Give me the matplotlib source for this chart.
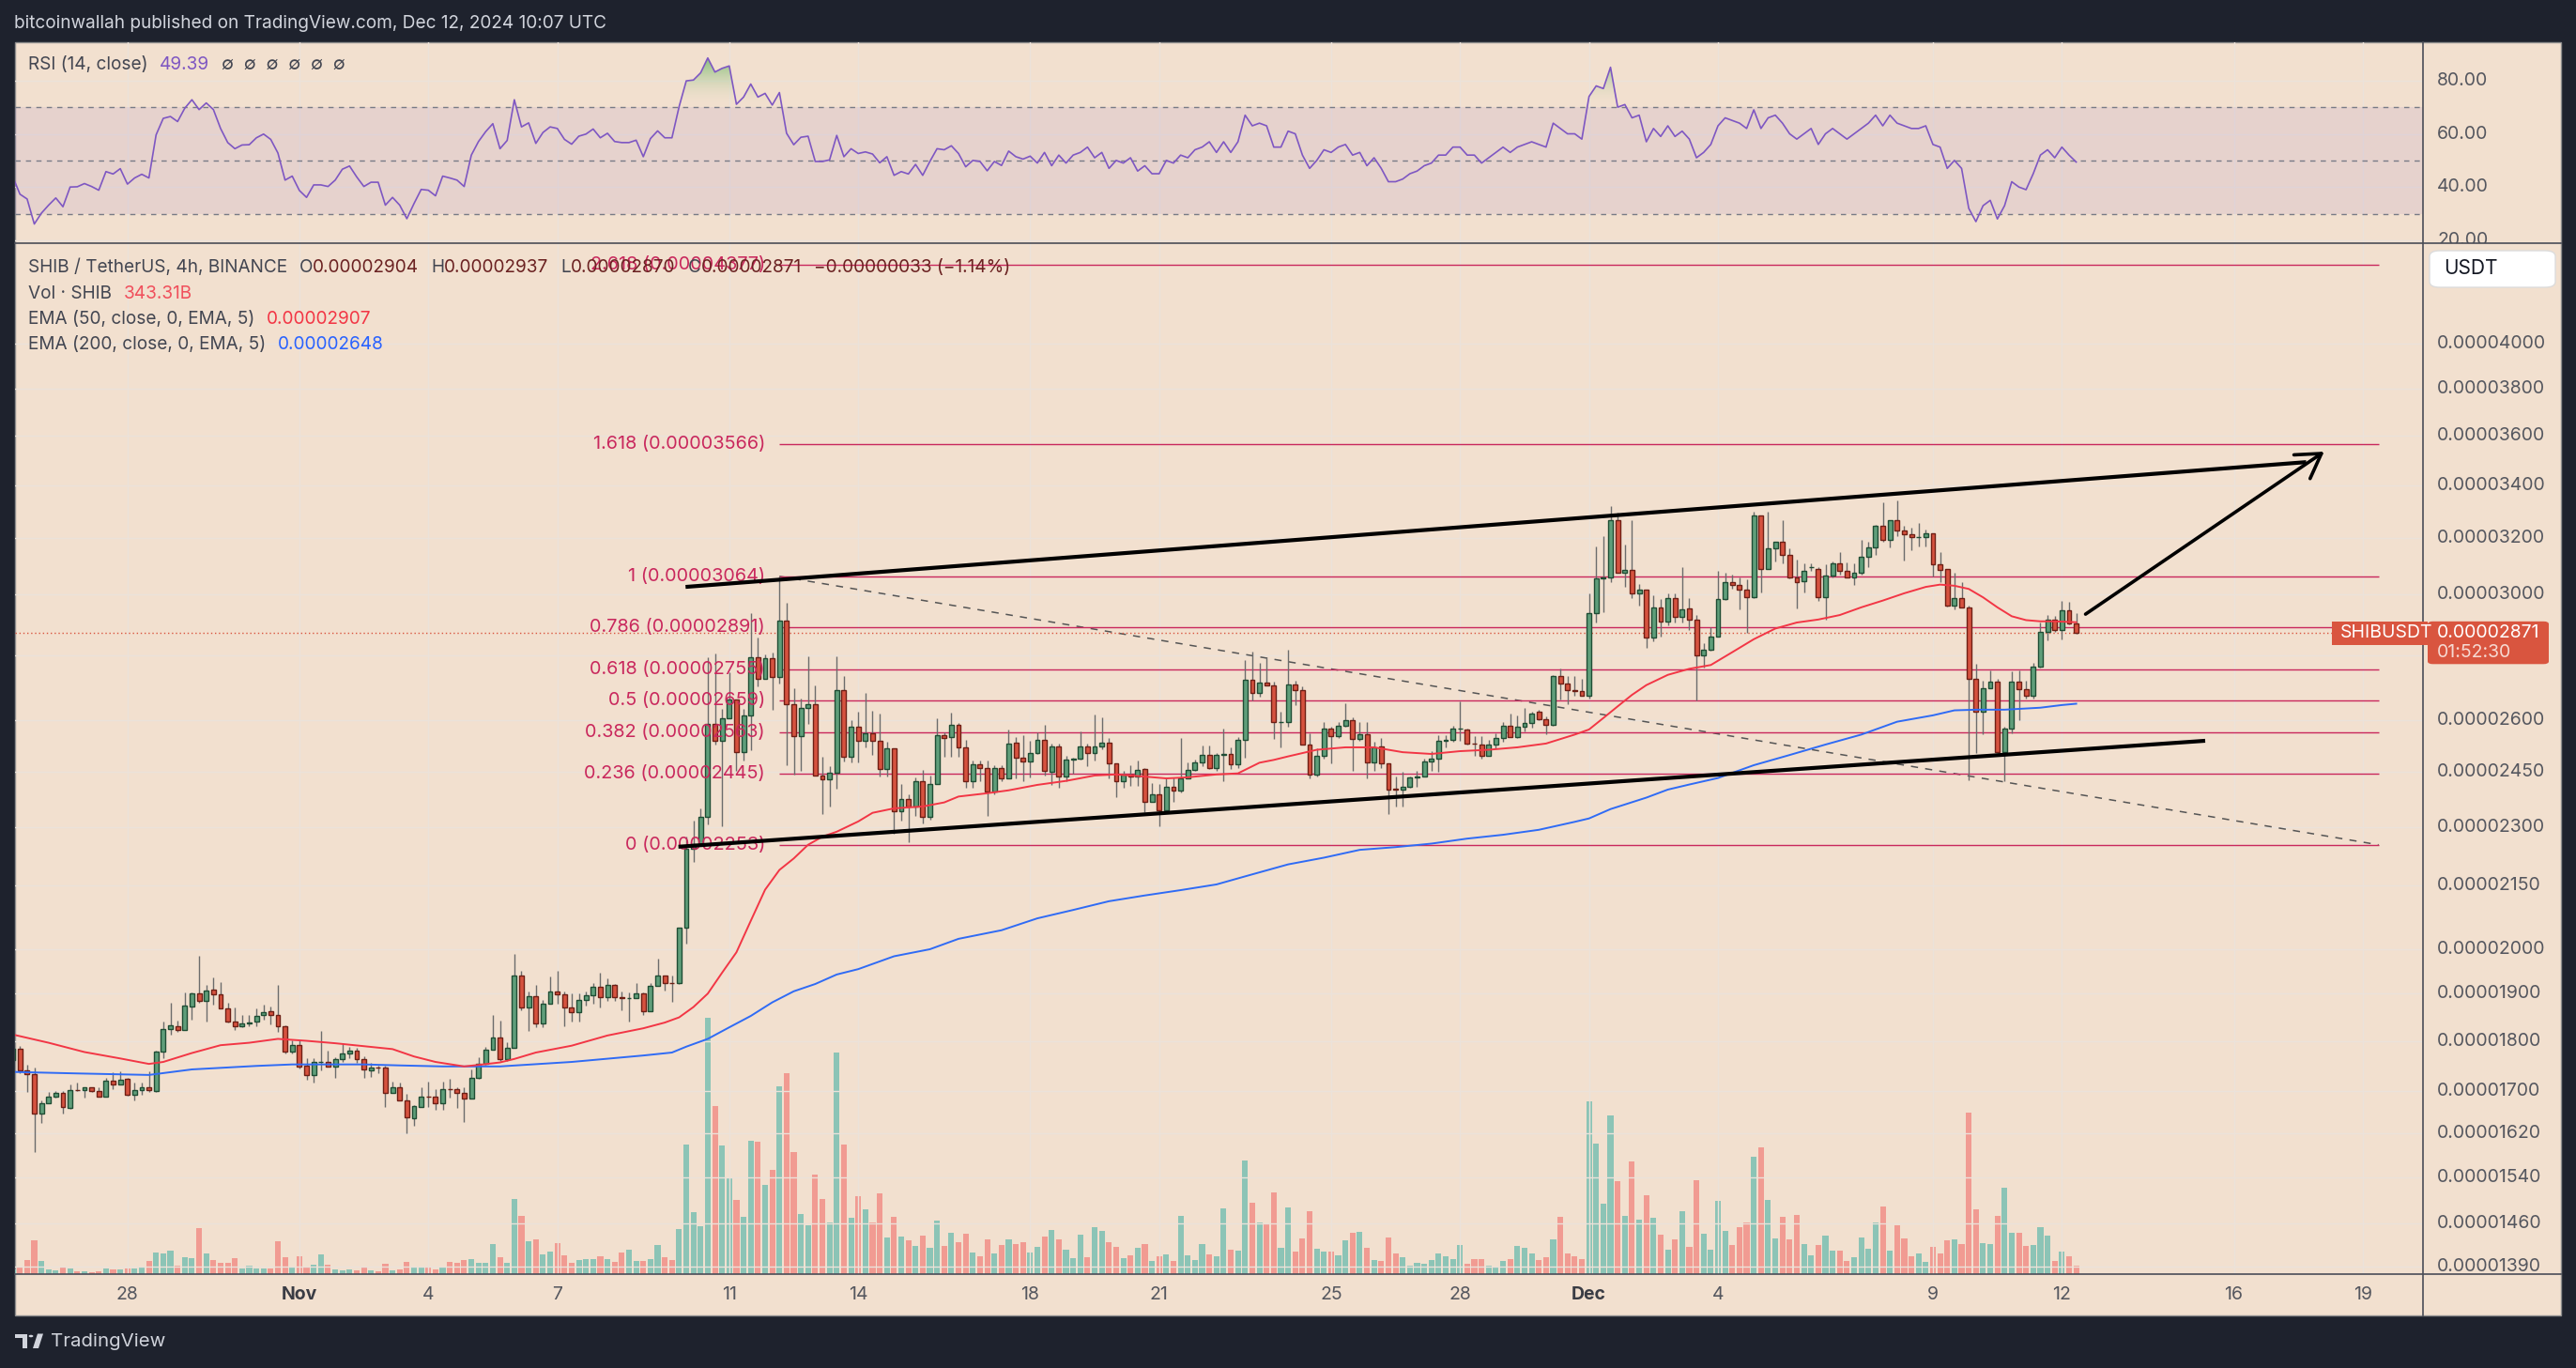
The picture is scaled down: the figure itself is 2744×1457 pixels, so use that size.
#!/usr/bin/env python3
import numpy as np
import pandas as pd
import matplotlib
matplotlib.use("Agg")
import matplotlib.pyplot as plt
from matplotlib.patches import Rectangle, FancyBboxPatch, Polygon, Circle
from matplotlib.lines import Line2D
from matplotlib.path import Path
from matplotlib.colors import LinearSegmentedColormap

# --------------------
# DATA (prices in units of 1e-8 USDT, volume in billions of SHIB)
# --------------------
START = "2024-10-25 08:00"   # first 4h bar

OPEN = [1761, 1783, 1741, 1732, 1656, 1676, 1688, 1695, 1667, 1702, 1702, 1706, 1700, 1689, 1719, 1713, 1724, 1692, 1702, 1706,
        1699, 1777, 1824, 1830, 1822, 1872, 1900, 1884, 1908, 1898, 1868, 1841, 1830, 1836, 1840, 1855, 1862, 1855, 1830, 1777,
        1791, 1750, 1730, 1757, 1757, 1747, 1763, 1774, 1779, 1762, 1740, 1746, 1745, 1696, 1707, 1682, 1647, 1668, 1689, 1688,
        1676, 1704, 1703, 1696, 1684, 1726, 1754, 1781, 1806, 1763, 1785, 1939, 1871, 1895, 1836, 1879, 1905, 1899, 1871, 1860,
        1887, 1897, 1914, 1893, 1919, 1893, 1890, 1891, 1900, 1862, 1916, 1939, 1924, 1923, 2048, 2243, 2255, 2327, 2587, 2539,
        2605, 2661, 2506, 2614, 2794, 2724, 2790, 2731, 2911, 2647, 2551, 2635, 2647, 2438, 2428, 2447, 2689,
        2492, 2580, 2538, 2559, 2538, 2457, 2516, 2342, 2374, 2354, 2424, 2326, 2415, 2554, 2549, 2584, 2519, 2422, 2470, 2460,
        2396, 2460, 2430, 2533, 2489, 2479, 2503, 2541, 2449, 2522, 2437, 2485, 2486, 2522, 2502, 2521, 2533, 2473, 2424, 2442,
        2436, 2457, 2366, 2387, 2345, 2407, 2398, 2431, 2454, 2475, 2498, 2460, 2498, 2501, 2470, 2541, 2723, 2682,
        2714, 2705, 2594, 2594, 2708, 2689, 2527, 2442, 2494, 2573, 2552, 2582, 2598, 2543, 2556, 2475, 2521, 2473, 2403, 2399,
        2408, 2433, 2437, 2478, 2486, 2537, 2540, 2573, 2571, 2531, 2527, 2494, 2527, 2547, 2583, 2549, 2579, 2591, 2623, 2601,
        2585, 2732, 2709, 2689, 2686, 2673, 2937, 3057, 3060, 3269, 3078, 3086, 3005, 3018, 2855, 2957, 2909,
        2988, 2924, 2953, 2914, 2800, 2817, 2860, 2985, 3042, 3033, 3018, 2993, 3285, 3091, 3164, 3186, 3141, 3060, 3046, 3095,
        3091, 2993, 3066, 3110, 3084, 3060, 3075, 3132, 3166, 3246, 3195, 3269, 3230, 3215, 3204, 3204, 3217, 3106, 3089, 2964,
        2988, 2955, 2724, 2625, 2695, 2717, 2505, 2573, 2716, 2693, 2671, 2763, 2876, 2917, 2880, 2948, 2904]
HIGH = [1790, 1789, 1752, 1746, 1681, 1698, 1699, 1699, 1712, 1716, 1707, 1707, 1706, 1725, 1737, 1739, 1725, 1716, 1716, 1739,
        1779, 1841, 1880, 1842, 1903, 1902, 1985, 1918, 1936, 1926, 1881, 1871, 1855, 1855, 1868, 1876, 1873, 1920, 1832, 1801,
        1801, 1765, 1765, 1821, 1780, 1766, 1795, 1788, 1786, 1768, 1756, 1749, 1749, 1718, 1716, 1694, 1673, 1707, 1718, 1703,
        1717, 1724, 1706, 1706, 1742, 1767, 1788, 1854, 1842, 1797, 1989, 1951, 1905, 1919, 1887, 1938, 1951, 1905, 1900, 1900,
        1905, 1924, 1946, 1934, 1921, 1905, 1903, 1924, 1903, 1924, 1977, 1939, 1939, 2050, 2275, 2317, 2348, 2794, 2805, 2633,
        2745, 2661, 2633, 2938, 2855, 2801, 2809, 3064, 2971, 2696, 2663, 2797, 2703, 2493, 2464, 2795, 2732,
        2598, 2624, 2680, 2627, 2617, 2536, 2516, 2416, 2387, 2434, 2455, 2439, 2604, 2562, 2620, 2591, 2541, 2482, 2480, 2482,
        2468, 2468, 2571, 2550, 2554, 2538, 2562, 2584, 2531, 2531, 2494, 2488, 2564, 2531, 2615, 2607, 2546, 2473, 2451, 2467,
        2482, 2460, 2419, 2416, 2434, 2434, 2546, 2476, 2485, 2525, 2525, 2504, 2575, 2519, 2548, 2783, 2810, 2776,
        2792, 2716, 2625, 2817, 2720, 2701, 2560, 2516, 2594, 2579, 2594, 2649, 2607, 2594, 2594, 2536, 2545, 2473, 2436, 2450,
        2436, 2451, 2487, 2507, 2555, 2555, 2583, 2654, 2574, 2552, 2552, 2541, 2561, 2594, 2619, 2613, 2636, 2625, 2629, 2609,
        2737, 2757, 2732, 2732, 2724, 3005, 3170, 3207, 3320, 3294, 3179, 3266, 3038, 3018, 2998, 2985, 3005,
        3005, 3095, 2988, 2932, 2839, 2891, 3082, 3078, 3069, 3060, 3053, 3299, 3285, 3299, 3188, 3269, 3164, 3124, 3110, 3110,
        3095, 3106, 3115, 3150, 3112, 3110, 3193, 3188, 3250, 3336, 3269, 3343, 3246, 3240, 3257, 3234, 3217, 3150, 3089, 3078,
        3042, 2962, 2771, 2720, 2752, 2724, 2579, 2749, 2752, 2720, 2776, 2905, 2932, 2927, 2980, 2975, 2937]
LOW = [1755, 1735, 1698, 1584, 1638, 1675, 1686, 1657, 1665, 1699, 1686, 1698, 1689, 1688, 1704, 1712, 1690, 1681, 1692, 1698,
       1697, 1765, 1812, 1819, 1822, 1845, 1880, 1841, 1877, 1868, 1839, 1823, 1828, 1830, 1830, 1845, 1834, 1819, 1775, 1774,
       1743, 1721, 1716, 1740, 1747, 1725, 1757, 1764, 1756, 1725, 1727, 1734, 1668, 1696, 1682, 1620, 1633, 1668, 1668, 1663,
       1663, 1686, 1666, 1640, 1684, 1724, 1752, 1781, 1758, 1758, 1785, 1864, 1820, 1828, 1828, 1879, 1878, 1830, 1840, 1840,
       1874, 1878, 1871, 1885, 1885, 1865, 1840, 1890, 1854, 1862, 1916, 1907, 1883, 1921, 2011, 2209, 2252, 2307, 2528, 2301,
       2605, 2453, 2480, 2510, 2700, 2724, 2630, 2710, 2467, 2441, 2453, 2588, 2438, 2333, 2354, 2402, 2478,
       2476, 2476, 2519, 2497, 2436, 2436, 2282, 2316, 2260, 2328, 2308, 2319, 2415, 2492, 2492, 2492, 2404, 2404, 2422, 2328,
       2387, 2422, 2430, 2431, 2424, 2434, 2501, 2439, 2413, 2404, 2424, 2444, 2485, 2466, 2482, 2514, 2431, 2380, 2404, 2410,
       2410, 2339, 2366, 2302, 2345, 2366, 2393, 2431, 2451, 2466, 2457, 2451, 2424, 2457, 2460, 2488, 2658, 2670,
       2705, 2543, 2518, 2579, 2645, 2527, 2432, 2436, 2486, 2474, 2546, 2580, 2451, 2537, 2432, 2453, 2461, 2334, 2355, 2355,
       2405, 2408, 2435, 2453, 2449, 2518, 2534, 2537, 2527, 2494, 2487, 2494, 2516, 2534, 2549, 2546, 2564, 2577, 2600, 2556,
       2582, 2660, 2648, 2673, 2673, 2665, 2906, 2940, 3042, 3078, 3027, 2988, 2962, 2824, 2845, 2860, 2896,
       2907, 2907, 2880, 2657, 2760, 2814, 2860, 2983, 3020, 2950, 2872, 2988, 3009, 3091, 3115, 3110, 3057, 2952, 3009, 3082,
       2980, 2914, 3060, 3069, 3060, 3033, 3069, 3097, 3141, 3188, 3166, 3207, 3119, 3157, 3170, 3170, 3064, 3042, 2961, 2950,
       2955, 2425, 2503, 2557, 2695, 2502, 2422, 2561, 2598, 2665, 2665, 2760, 2846, 2876, 2851, 2899, 2870]
CLOSE = [1783, 1741, 1732, 1656, 1675, 1689, 1695, 1668, 1702, 1701, 1706, 1700, 1689, 1719, 1713, 1722, 1692, 1702, 1706, 1701,
         1777, 1824, 1832, 1822, 1874, 1900, 1884, 1907, 1898, 1868, 1841, 1830, 1836, 1838, 1853, 1861, 1855, 1830, 1777, 1791,
         1748, 1730, 1757, 1757, 1747, 1763, 1774, 1779, 1762, 1742, 1746, 1745, 1696, 1707, 1682, 1649, 1670, 1689, 1688, 1676,
         1704, 1703, 1696, 1684, 1726, 1754, 1781, 1806, 1763, 1785, 1939, 1871, 1895, 1836, 1879, 1905, 1899, 1871, 1860, 1887,
         1897, 1914, 1893, 1919, 1893, 1890, 1891, 1900, 1862, 1916, 1939, 1924, 1923, 2048, 2243, 2255, 2327, 2587, 2539, 2605,
         2661, 2506, 2614, 2794, 2724, 2790, 2731, 2911, 2647, 2551, 2635, 2647, 2438, 2428, 2447, 2689, 2492,
         2580, 2538, 2559, 2538, 2457, 2516, 2342, 2374, 2354, 2424, 2326, 2415, 2554, 2546, 2584, 2519, 2422, 2470, 2460, 2396,
         2460, 2430, 2530, 2489, 2479, 2503, 2541, 2451, 2522, 2437, 2485, 2486, 2522, 2502, 2521, 2533, 2473, 2422, 2442, 2436,
         2456, 2366, 2387, 2345, 2407, 2398, 2431, 2454, 2475, 2498, 2460, 2498, 2501, 2470, 2541, 2723, 2682, 2714,
         2705, 2594, 2594, 2708, 2689, 2527, 2442, 2494, 2573, 2552, 2582, 2598, 2543, 2556, 2475, 2518, 2473, 2400, 2399, 2408,
         2433, 2437, 2478, 2486, 2537, 2540, 2573, 2574, 2531, 2530, 2494, 2527, 2547, 2583, 2549, 2579, 2591, 2619, 2601, 2585,
         2732, 2709, 2689, 2686, 2673, 2937, 3057, 3060, 3269, 3078, 3086, 3005, 3018, 2855, 2957, 2909, 2988,
         2924, 2950, 2914, 2800, 2817, 2860, 2985, 3042, 3033, 3018, 2993, 3285, 3091, 3164, 3186, 3141, 3060, 3042, 3084, 3097,
         2993, 3066, 3110, 3084, 3060, 3075, 3132, 3166, 3246, 3195, 3266, 3230, 3215, 3204, 3205, 3217, 3106, 3088, 2964, 2988,
         2955, 2724, 2625, 2695, 2717, 2505, 2573, 2716, 2693, 2671, 2763, 2876, 2917, 2880, 2948, 2904, 2871]
VOLUME_B = [200, 320, 600, 1440, 560, 200, 160, 320, 240, 120, 120, 80, 120, 240, 200, 200, 240, 240, 320, 560,
            920, 880, 1000, 360, 720, 680, 1960, 880, 600, 480, 480, 680, 240, 360, 240, 240, 240, 1400, 720, 280,
            760, 320, 400, 840, 400, 200, 160, 200, 160, 280, 160, 120, 440, 160, 200, 520, 320, 280, 280, 200,
            280, 520, 480, 600, 640, 480, 480, 1280, 720, 480, 3200, 2480, 1400, 1480, 840, 960, 1320, 800, 480, 600,
            640, 640, 760, 640, 520, 920, 1040, 560, 560, 640, 1240, 720, 600, 1920, 5520, 2640, 2040, 10920, 7160, 5480,
            4120, 3160, 2440, 5680, 5640, 3800, 4440, 8000, 8560, 5200, 2560, 2080, 4240, 3200, 2200, 9440, 5520,
            2400, 3320, 2760, 2200, 3440, 1560, 2440, 1600, 1440, 1200, 1640, 1120, 2280, 1200, 1760, 1360, 1720, 920, 760, 1480,
            880, 1240, 1480, 1280, 1360, 920, 1160, 1600, 1880, 1480, 1040, 680, 1680, 720, 2000, 1840, 1360, 1160, 680, 800,
            1120, 1280, 560, 760, 840, 560, 2480, 800, 600, 1280, 840, 760, 2800, 1040, 1000, 4840, 3040, 2200,
            2120, 3480, 1120, 2840, 960, 1520, 2680, 1080, 960, 960, 800, 1440, 1760, 1800, 1120, 600, 560, 1560, 880, 720,
            360, 480, 440, 600, 880, 760, 640, 1240, 440, 640, 640, 360, 320, 560, 640, 1200, 1120, 880, 600, 720,
            1480, 2440, 880, 760, 640, 7360, 5560, 3000, 6760, 3960, 2480, 4800, 2320, 3360, 2400, 1680, 1040,
            1480, 2680, 1160, 4000, 1720, 1040, 3120, 1840, 1240, 2000, 2200, 5000, 5400, 3160, 1520, 2440, 1480, 2520, 1280, 800,
            1240, 1640, 1000, 1000, 560, 720, 1560, 1080, 2200, 2880, 1000, 2080, 1520, 760, 880, 520, 1160, 880, 1440, 1480,
            1280, 6880, 2760, 1320, 1280, 2480, 3680, 1760, 1760, 1200, 1240, 2000, 1640, 560, 960, 760, 343.31]

# EMA readings: (bar index, value)
EMA50_J = [0, 5, 10, 15, 19, 21, 25, 29, 33, 37, 41, 45, 49, 53, 56, 59, 63, 65, 68, 70, 73, 78, 83, 88, 91, 93, 95, 97,
           99, 101, 103, 105, 107, 109, 111, 113, 115, 118, 120, 123, 127, 130, 132, 136, 139, 143, 147, 151, 154, 158,
           161, 164, 168, 171, 174, 176, 178, 182, 186, 190, 194, 198, 202, 206, 210, 214, 218, 220, 222, 224, 226, 228,
           231, 234, 237, 240, 243, 246, 249, 252, 255, 258, 261, 264, 267, 269, 271, 273, 275, 277, 279, 281, 283, 285, 288]
EMA50_V = [1813, 1796, 1777, 1764, 1753, 1757, 1775, 1791, 1796, 1804, 1800, 1795, 1789, 1783, 1768, 1757, 1748, 1751,
           1756, 1763, 1776, 1790, 1811, 1826, 1838, 1849, 1871, 1900, 1946, 1992, 2065, 2140, 2189, 2218, 2253, 2274,
           2287, 2314, 2337, 2349, 2354, 2365, 2381, 2390, 2398, 2413, 2424, 2439, 2442, 2436, 2431, 2434, 2442, 2445,
           2475, 2483, 2493, 2512, 2519, 2519, 2505, 2500, 2508, 2512, 2519, 2530, 2556, 2571, 2605, 2640, 2675, 2705,
           2737, 2756, 2768, 2809, 2851, 2886, 2906, 2916, 2931, 2957, 2980, 3005, 3027, 3035, 3031, 3020, 2991, 2957,
           2927, 2914, 2910, 2910, 2907]
EMA200_J = [0, 9, 19, 25, 34, 39, 49, 54, 60, 68, 78, 88, 92, 94, 97, 100, 103, 106, 109, 112, 115, 118, 123, 128, 132,
            138, 143, 148, 153, 158, 163, 168, 172, 178, 183, 188, 193, 198, 203, 208, 213, 218, 220, 223, 228, 231, 234,
            238, 243, 248, 253, 258, 263, 268, 271, 274, 278, 283, 286, 288]
EMA200_V = [1737, 1734, 1731, 1742, 1749, 1752, 1752, 1750, 1748, 1748, 1757, 1770, 1776, 1788, 1804, 1828, 1852, 1881,
            1905, 1921, 1942, 1954, 1983, 1999, 2023, 2043, 2071, 2091, 2112, 2126, 2139, 2153, 2173, 2203, 2220, 2240,
            2247, 2256, 2269, 2279, 2292, 2313, 2322, 2347, 2378, 2400, 2414, 2432, 2468, 2497, 2527, 2556, 2594, 2613,
            2628, 2630, 2630, 2636, 2644, 2648]

# RSI(14), one reading per bar
RSI = [43.8, 37.3, 35.5, 26.1, 30.2, 33.2, 35.9, 32.6, 40.0, 40.1, 41.3, 40.2, 38.8, 45.8, 44.9, 46.9, 41.1, 43.4, 44.8, 43.4,
       59.6, 65.8, 66.5, 64.6, 69.6, 72.8, 69.1, 71.6, 69.1, 62.0, 56.7, 54.4, 55.8, 55.9, 58.5, 59.9, 57.9, 52.8, 42.6, 44.1,
       38.7, 36.1, 40.8, 40.8, 40.2, 42.6, 46.7, 47.9, 43.8, 40.2, 41.8, 41.8, 33.2, 36.1, 33.2, 28.1, 33.8, 39.1, 38.8, 36.7,
       44.1, 43.4, 42.6, 40.2, 52.0, 57.1, 60.8, 63.8, 54.4, 57.5, 72.8, 62.6, 64.1, 56.4, 60.5, 62.6, 62.0, 57.9, 56.1, 59.1,
       59.9, 61.8, 58.5, 60.2, 57.1, 56.7, 56.7, 57.6, 51.4, 58.2, 61.1, 58.5, 58.5, 70.2, 79.9, 80.2, 82.9, 88.5, 83.2, 84.6,
       85.5, 71.1, 73.8, 78.7, 73.8, 75.2, 70.8, 75.5, 60.2, 55.9, 58.7, 59.1, 49.6, 49.6, 50.2, 59.4, 51.4, 54.4, 52.6, 53.2,
       52.4, 49.1, 51.4, 44.4, 45.8, 44.9, 48.5, 44.4, 49.6, 54.4, 54.0, 55.5, 52.6, 47.6, 50.0, 49.6, 46.1, 49.6, 48.1, 53.5,
       51.4, 50.5, 51.6,
       49, 53, 48, 52, 49, 52, 53, 55, 51, 53,
       47, 50, 49, 51, 46, 48, 45, 45, 50, 49,
       52, 51, 54, 55, 57, 53, 57, 53, 57, 67,
       63, 64, 63, 55, 55, 61, 60, 52, 47, 50,
       54, 53, 55, 56, 52, 53, 48, 51, 47, 42,
       42, 43, 45, 46, 48, 49, 52, 52, 55, 55,
       52, 52, 49, 51, 53, 55, 53, 55, 56, 57,
       56, 55, 64, 62, 60, 60, 58, 74, 78, 77,
       85, 70, 71, 66, 67, 57, 62, 59, 63, 59,
       61, 58, 51, 53, 56, 63, 66, 65, 64, 62,
       69, 62, 66, 67, 64, 60, 58, 60, 62, 56,
       60, 62, 60, 58, 60, 62, 64, 67, 63, 67,
       64, 63, 62, 62, 63, 56, 55, 47, 50, 47,
       32, 27, 33, 35, 28, 33, 42, 40, 39, 45,
       52, 54, 51, 55, 52, 49.39]

# Fibonacci retracement and hand-drawn lines (bar index, price)
FIB_RATIOS = [0, 0.236, 0.382, 0.5, 0.618, 0.786, 1, 1.618, 2.618]
FIB_PRICES = [2253, 2445, 2563, 2659, 2755, 2891, 3064, 3566, 4377]
FIB_SPAN = (107, 330.2)
FIB_DIAG = [(107, 3064), (330.2, 2253)]
UPPER_LINE = [(93.9, 3027), (320.1, 3492)]
LOWER_LINE = [(92.9, 2248), (306, 2538)]
ARROW = [(289.3, 2934), (322.6, 3534)]

PRICE_TICKS = [4000, 3800, 3600, 3400, 3200, 3000, 2600, 2450, 2300, 2150, 2000, 1900, 1800, 1700, 1620, 1540, 1460, 1390]
HIDDEN_GRID = [2800]
RSI_TICKS = [80, 60, 40, 20]
TICK_DATES = ["2024-10-28", "2024-11-01", "2024-11-04", "2024-11-07", "2024-11-11", "2024-11-14", "2024-11-18",
              "2024-11-21", "2024-11-25", "2024-11-28", "2024-12-01", "2024-12-04", "2024-12-09", "2024-12-12",
              "2024-12-16", "2024-12-19"]
TICK_TEXT = ["28", "Nov", "4", "7", "11", "14", "18", "21", "25", "28", "Dec", "4", "9", "12", "16", "19"]

HEADER = "bitcoinwallah published on TradingView.com, Dec 12, 2024 10:07 UTC"
COUNTDOWN = "01:52:30"

# --------------------
# STYLE
# --------------------
W, H, DPI = 2744, 1457, 100
UNIT = 1e-8
DARK = "#1e222d"
BG = "#f2e0cf"
GRID = "#ebe2da"
SEP = "#4a4d57"
TXT = "#434651"
AXTXT = "#55575f"
GREEN, GREEN_EDGE = "#5f9e7a", "#1f4d34"
RED, RED_EDGE = "#d6523f", "#6e1f15"
WICK = "#6c6c6c"
VOL_UP, VOL_DN = "#8cc4b6", "#f19b92"
EMA50_C, EMA200_C = "#f23645", "#2f6bf5"
RSI_C = "#7e57c2"
FIB_C = "#c9285d"
LAST_C = "#d9553f"
VALUE_C = "#6b2222"
FS = 13.7        # legends / header
FIB_FS = 14.3    # fibonacci labels
AX_FS = 14.0     # price and time scales

plt.rcParams['font.family'] = ['Inter', 'DejaVu Sans']

PANE_L, PANE_R, EDGE_R = 16, 2581, 2728
TOP, RSI_B, MAIN_B, PANEL_B = 45, 259, 1357, 1401
X_VIEW = (0.31, 336.4)
PRICE_VIEW = (1378 * UNIT, 4487 * UNIT)
RSI_VIEW = (18.9, 94.4)
VOL_TOP = 43920

o = np.array(OPEN) * UNIT
h = np.array(HIGH) * UNIT
l = np.array(LOW) * UNIT
c = np.array(CLOSE) * UNIT
n = len(c)
idx = np.arange(n)
up = c >= o
times = pd.date_range(START, periods=n, freq="4h")


def bar_pos(d):
    return (pd.Timestamp(d) - times[0]) / pd.Timedelta(hours=4)


def frect(x0, y0, x1, y1):
    return [x0 / W, 1 - y1 / H, (x1 - x0) / W, (y1 - y0) / H]


def fig_line(x0, y0, x1, y1, **kw):
    fig.add_artist(Line2D([x0 / W, x1 / W], [1 - y0 / H, 1 - y1 / H], transform=fig.transFigure, zorder=30, **kw))


fig = plt.figure(figsize=(W / DPI, H / DPI), dpi=DPI)
fig.patch.set_facecolor(DARK)
fig.add_artist(Rectangle((PANE_L / W, 1 - PANEL_B / H), (EDGE_R - PANE_L) / W, (PANEL_B - TOP) / H,
                         transform=fig.transFigure, facecolor=BG, edgecolor="#8e8e8e", lw=1, zorder=-5))

ax_rsi = fig.add_axes(frect(PANE_L, TOP, PANE_R, RSI_B))
ax_vol = fig.add_axes(frect(PANE_L, RSI_B, PANE_R, MAIN_B))
ax = fig.add_axes(frect(PANE_L, RSI_B, PANE_R, MAIN_B))
ax_rl = fig.add_axes(frect(PANE_R, TOP, EDGE_R, RSI_B))
ax_pl = fig.add_axes(frect(PANE_R, RSI_B, EDGE_R, MAIN_B))
ax_vol.set_zorder(1)
ax.set_zorder(2)
for a in (ax_rsi, ax_vol, ax, ax_rl, ax_pl):
    a.set_facecolor("none")
    a.set_axis_off()

date_pos = [bar_pos(d) for d in TICK_DATES]

# --------------------
# RSI PANE
# --------------------
rv = np.array(RSI, dtype=float)
for v in RSI_TICKS:
    ax_rsi.axhline(v, color=GRID, lw=1, zorder=0)
for p in date_pos:
    ax_rsi.axvline(p, color=GRID, lw=1, zorder=0)
ax_rsi.axhspan(30, 70, color=RSI_C, alpha=0.1, lw=0, zorder=1)
for v in (70, 50, 30):
    ax_rsi.axhline(v, color="#787b86", lw=1, ls=(0, (4, 4)), zorder=2)
ob = ax_rsi.fill_between(idx, 70, rv, where=rv > 70, interpolate=True, color="none", lw=0)
paths = ob.get_paths()
if paths:
    grad = np.linspace(0, 1, 256).reshape(-1, 1)
    cmap = LinearSegmentedColormap.from_list("ob", [(0.95, 0.88, 0.81, 0.0), (0.42, 0.72, 0.40, 0.85)])
    im = ax_rsi.imshow(grad, extent=[0, n - 1, 70, 89], origin="lower", aspect="auto", cmap=cmap, zorder=2.5)
    im.set_clip_path(Path.make_compound_path(*paths), ax_rsi.transData)
ax_rsi.plot(idx, rv, color=RSI_C, lw=1.2, zorder=3)
ax_rsi.set_xlim(*X_VIEW)
ax_rsi.set_ylim(*RSI_VIEW)

ax_rl.set_xlim(0, 1)
ax_rl.set_ylim(*RSI_VIEW)
for v in RSI_TICKS:
    ax_rl.text(15 / (EDGE_R - PANE_R), v, f"{v:.2f}", color=AXTXT, fontsize=AX_FS, ha="left", va="center", clip_on=True)

# --------------------
# MAIN PANE
# --------------------
ax_vol.bar(idx, VOLUME_B, width=0.8, color=np.where(up, VOL_UP, VOL_DN), lw=0)
ax_vol.set_xlim(*X_VIEW)
ax_vol.set_ylim(0, VOL_TOP)

ax.set_yscale("log")
for p in PRICE_TICKS + HIDDEN_GRID:
    ax.axhline(p * UNIT, color=GRID, lw=1, zorder=0)
for p in date_pos:
    ax.axvline(p, color=GRID, lw=1, zorder=0)

ax.vlines(idx, l, h, color=WICK, lw=1.0, zorder=3)
body_lo = np.minimum(o, c)
body_h = np.abs(c - o)
ax.bar(idx[up], body_h[up], bottom=body_lo[up], width=0.64, color=GREEN, edgecolor=GREEN_EDGE, lw=1.0, zorder=4)
ax.bar(idx[~up], body_h[~up], bottom=body_lo[~up], width=0.64, color=RED, edgecolor=RED_EDGE, lw=1.0, zorder=4)

ax.plot(EMA200_J, np.array(EMA200_V) * UNIT, color=EMA200_C, lw=1.4, zorder=5)
ax.plot(EMA50_J, np.array(EMA50_V) * UNIT, color=EMA50_C, lw=1.4, zorder=5)

# fibonacci levels
ax.plot([p[0] for p in FIB_DIAG], [p[1] * UNIT for p in FIB_DIAG], color="#555555", lw=1.1, ls=(0, (5, 5)), zorder=2.5)
for r, p in zip(FIB_RATIOS, FIB_PRICES):
    ax.hlines(p * UNIT, FIB_SPAN[0], FIB_SPAN[1], color=FIB_C, lw=1.0, zorder=2.5)
    ax.annotate(f"{r:g} ({p * UNIT:.8f})", xy=(FIB_SPAN[0], p * UNIT), xytext=(-11, 0), textcoords="offset points",
                ha="right", va="center", color=FIB_C, fontsize=FIB_FS, zorder=6, annotation_clip=False)

# channel + arrow
for line in (UPPER_LINE, LOWER_LINE):
    ax.plot([q[0] for q in line], [q[1] * UNIT for q in line], color="black", lw=3.0, solid_capstyle="butt", zorder=7)
ax.annotate("", xy=(ARROW[1][0], ARROW[1][1] * UNIT), xytext=(ARROW[0][0], ARROW[0][1] * UNIT),
            arrowprops=dict(arrowstyle="->,head_length=0.9,head_width=0.55", mutation_scale=20,
                            color="black", lw=2.6, shrinkA=0, shrinkB=0), zorder=7)

# last price line
ax.axhline(c[-1], color=LAST_C, lw=1.0, ls=(0, (1, 2)), zorder=2.6)

ax.set_xlim(*X_VIEW)
ax.set_ylim(*PRICE_VIEW)

# price scale labels
ax_pl.set_yscale("log")
ax_pl.set_xlim(0, 1)
ax_pl.set_ylim(*PRICE_VIEW)
for p in PRICE_TICKS:
    ax_pl.text(15 / (EDGE_R - PANE_R), p * UNIT, f"{p * UNIT:.8f}", color=AXTXT, fontsize=AX_FS,
               ha="left", va="center", clip_on=True)

# time axis labels
for p, s in zip(date_pos, TICK_TEXT):
    bold = s.isalpha()
    ax.text(p, -22 / (MAIN_B - RSI_B), s, transform=ax.get_xaxis_transform(), ha="center", va="center",
            fontsize=AX_FS, color="#3a3c44" if bold else AXTXT, fontweight="bold" if bold else "normal", clip_on=False)

# --------------------
# SEPARATORS, LABEL BOXES
# --------------------
fig_line(PANE_L, RSI_B, EDGE_R, RSI_B, color=SEP, lw=1.2)
fig_line(PANE_L, MAIN_B, EDGE_R, MAIN_B, color=SEP, lw=1.2)
fig_line(PANE_R, TOP, PANE_R, PANEL_B, color=SEP, lw=1.2)

fig.add_artist(FancyBboxPatch((2588 / W, 1 - 306 / H), 134 / W, 39 / H, boxstyle="round,pad=0,rounding_size=0.004",
                              transform=fig.transFigure, facecolor="white", edgecolor="#dcdcdc", lw=1, zorder=31))
fig.text(2603 / W, 1 - 286 / H, "USDT", color="#131722", fontsize=AX_FS + 1, ha="left", va="center", zorder=32)

y_last = H - ax.transData.transform((X_VIEW[1], c[-1]))[1]
fig.add_artist(Rectangle((2484 / W, 1 - (y_last + 12.5) / H), (2586 - 2484) / W, 25 / H, transform=fig.transFigure,
                         facecolor=LAST_C, lw=0, zorder=31))
fig.add_artist(FancyBboxPatch((2586 / W, 1 - (y_last + 33) / H), (2715 - 2586) / W, 45.5 / H,
                              boxstyle="round,pad=0,rounding_size=0.002", transform=fig.transFigure,
                              facecolor=LAST_C, lw=0, zorder=31))
fig.text(2493 / W, 1 - y_last / H, "SHIBUSDT", color="white", fontsize=AX_FS, ha="left", va="center", zorder=32)
fig.text(2596 / W, 1 - y_last / H, f"{c[-1]:.8f}", color="white", fontsize=AX_FS, ha="left", va="center", zorder=32)
fig.text(2596 / W, 1 - (y_last + 21) / H, COUNTDOWN, color="#f6d9d2", fontsize=AX_FS, ha="left", va="center", zorder=32)

# --------------------
# LEGENDS AND HEADER
# --------------------
renderer = fig.canvas.get_renderer()


def text_runs(x_px, y_px, runs, gap=13):
    x = x_px
    for s, col in runs:
        t = fig.text(x / W, 1 - y_px / H, s, color=col, fontsize=FS, ha="left", va="center", zorder=40)
        x += t.get_window_extent(renderer).width + gap
    return x


change = (CLOSE[-1] - CLOSE[-2]) * UNIT
pct = (CLOSE[-1] - CLOSE[-2]) / CLOSE[-2] * 100
text_runs(29.5, 69, [("RSI (14, close)", TXT), (f"{RSI[-1]:.2f}", RSI_C), ("∅  ∅  ∅  ∅  ∅  ∅", TXT)])
ohlc_x = text_runs(29.5, 285, [("SHIB / TetherUS, 4h, BINANCE", TXT)])
for lab, val in (("O", OPEN[-1]), ("H", HIGH[-1]), ("L", LOW[-1]), ("C", CLOSE[-1])):
    t1 = fig.text(ohlc_x / W, 1 - 285 / H, lab, color=TXT, fontsize=FS, ha="left", va="center", zorder=40)
    w1 = t1.get_window_extent(renderer).width
    t2 = fig.text((ohlc_x + w1) / W, 1 - 285 / H, f"{val * UNIT:.8f}", color=VALUE_C, fontsize=FS,
                  ha="left", va="center", zorder=40)
    ohlc_x += w1 + t2.get_window_extent(renderer).width + 13
fig.text(ohlc_x / W, 1 - 285 / H, f"{change:.8f} ({pct:.2f}%)".replace("-", "\u2212"), color=VALUE_C,
         fontsize=FS, ha="left", va="center", zorder=40)
text_runs(29.5, 312.7, [("Vol · SHIB", TXT), (f"{VOLUME_B[-1]:.2f}B", "#f0505c")])
text_runs(29.5, 340, [("EMA (50, close, 0, EMA, 5)", TXT), (f"{EMA50_V[-1] * UNIT:.8f}", EMA50_C)])
text_runs(29.5, 366.7, [("EMA (200, close, 0, EMA, 5)", TXT), (f"{EMA200_V[-1] * UNIT:.8f}", "#2962ff")])

fig.text(15.4 / W, 1 - 25 / H, HEADER, color="#d1d4dc", fontsize=FS, ha="left", va="center")

# TradingView logo
LOGO = "#d1d4dc"
fig.add_artist(Rectangle((16 / W, 1 - 1425 / H), 13 / W, 4.5 / H, transform=fig.transFigure, color=LOGO, lw=0))
fig.add_artist(Rectangle((24 / W, 1 - 1436 / H), 5 / W, 15.5 / H, transform=fig.transFigure, color=LOGO, lw=0))
fig.add_artist(Circle((33 / W, 1 - 1423 / H), 2.4 / W, transform=fig.transFigure, color=LOGO, lw=0))
fig.add_artist(Polygon([(35 / W, 1 - 1436 / H), (40 / W, 1 - 1420.5 / H), (46 / W, 1 - 1420.5 / H),
                        (41 / W, 1 - 1436 / H)], closed=True, transform=fig.transFigure, color=LOGO, lw=0))
fig.text(54 / W, 1 - 1429 / H, "TradingView", color=LOGO, fontsize=FS + 1, ha="left", va="center")

fig.savefig("out.png", dpi=DPI, facecolor=fig.get_facecolor())
